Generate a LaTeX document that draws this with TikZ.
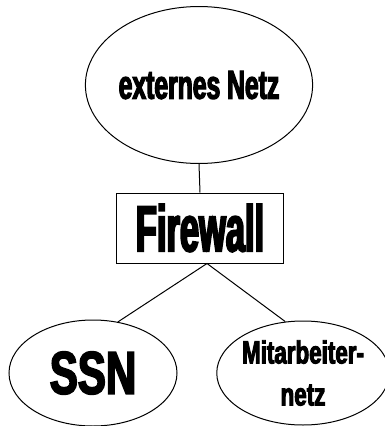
\documentclass[tikz,border=0pt]{standalone}
\usepackage{fontspec}
\newfontfamily\fwfont[FakeStretch=0.53,FakeBold=3]{Liberation Sans}
\newfontfamily\netzfont[FakeStretch=0.61,FakeBold=3]{Liberation Sans}
\newfontfamily\ssnfont[FakeStretch=0.70,FakeBold=3]{Liberation Sans}
\usetikzlibrary{calc,positioning,shapes.geometric}
\tikzset{
    netz/.style={draw, ellipse, inner sep=0pt, line width=1pt},
    wand/.style={draw, rectangle, inner sep=0pt, line width=1pt}
}

\begin{document}
\begin{tikzpicture}[x=1pt, y=-1pt, line width=1pt]
        \useasboundingbox (0,0) rectangle (384,426);
        \node[netz, minimum width=212pt, minimum height=157pt,
            font=\netzfont\bfseries\fontsize{40.5}{44}\selectfont] (extern) at (199,85) {externes Netz};
        \node[wand, minimum width=167pt, minimum height=70pt,
            font=\fwfont\bfseries\fontsize{65}{70}\selectfont] (fw) at (200,228) {Firewall};
        \node[netz, minimum width=168pt, minimum height=106pt,
            font=\ssnfont\bfseries\fontsize{60}{64}\selectfont] (ssn) at (93,373) {SSN};
        \node[netz, minimum width=160pt, minimum height=104pt, align=center,
            font=\ssnfont\bfseries\fontsize{32}{42}\selectfont] (ma) at (303,373) {Mitarbeiter-\\netz};
        \coordinate (gabel) at ($(fw.south)+(7,0)$);

        \draw (extern.south)--(fw.north);
        \draw (ssn.64)--(gabel)--(ma.109);
    \end{tikzpicture}
\end{document}
